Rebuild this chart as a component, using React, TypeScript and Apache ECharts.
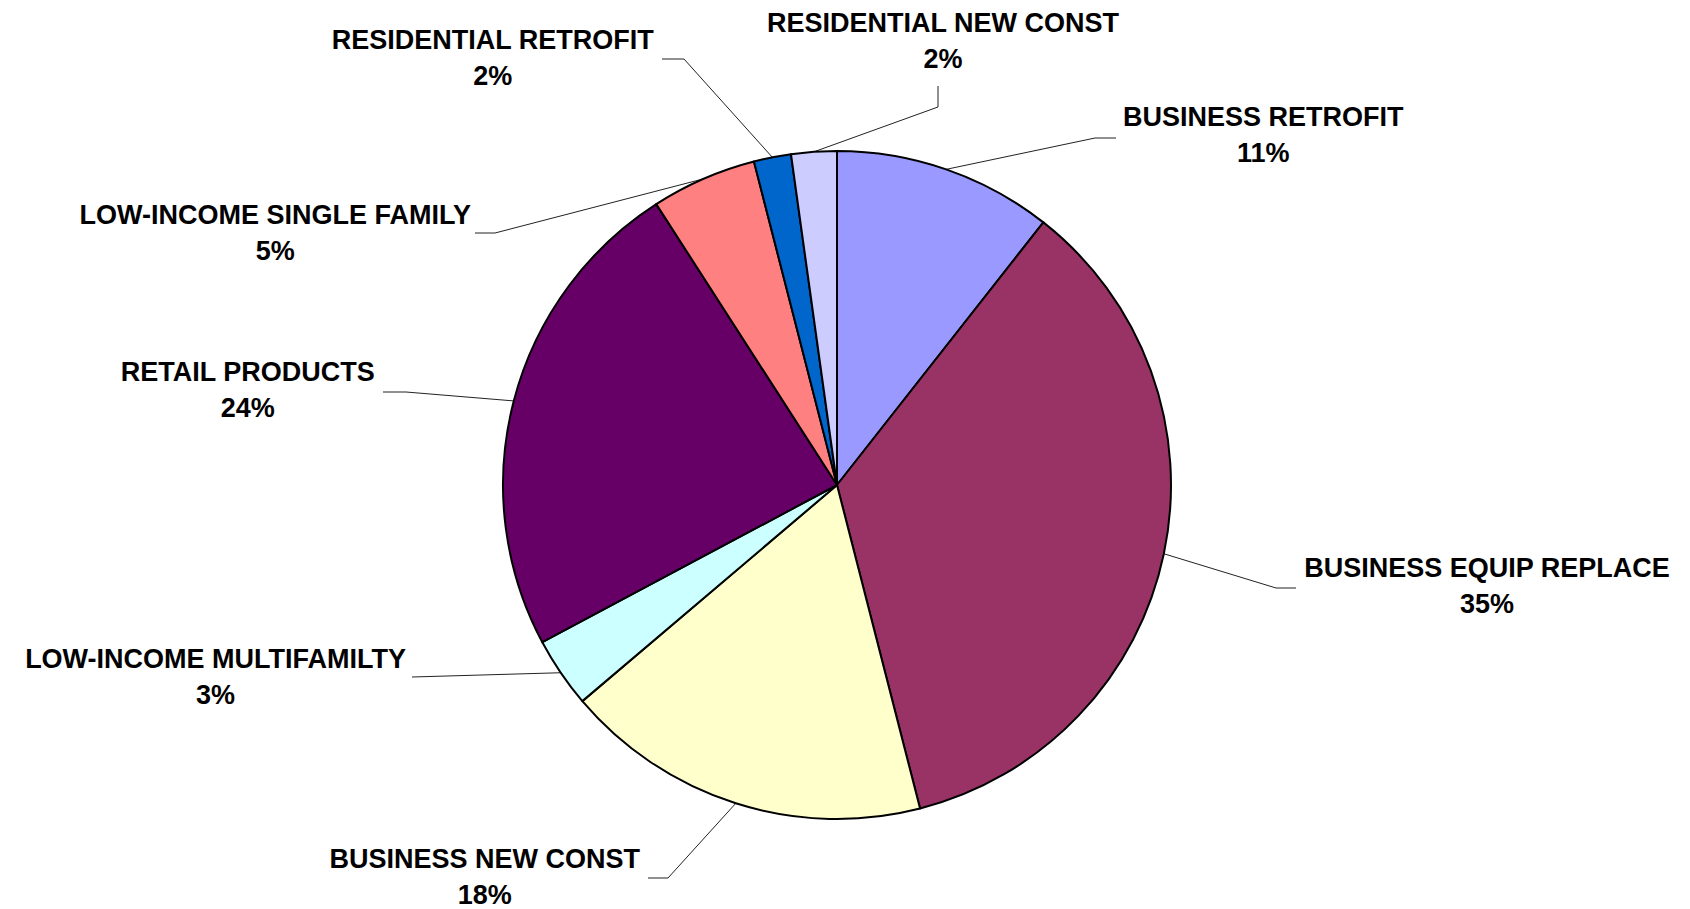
import React, { useEffect, useRef } from 'react';
import * as echarts from 'echarts';

// ---- data ----
const categories = [
  'BUSINESS RETROFIT',
  'BUSINESS EQUIP REPLACE',
  'BUSINESS NEW CONST',
  'LOW-INCOME MULTIFAMILTY',
  'RETAIL PRODUCTS',
  'LOW-INCOME SINGLE FAMILY',
  'RESIDENTIAL RETROFIT',
  'RESIDENTIAL NEW CONST',
];
const values = [10.6, 35.4, 17.8, 3.4, 23.7, 5.1, 1.8, 2.2];
const colors = ['#9999FF', '#993366', '#FFFFCC', '#CCFFFF', '#660066', '#FF8080', '#0066CC', '#CCCCFF'];

// ---- label placement (leader line points after the slice edge point, and label anchor) ----
type Guide = { pts: number[][]; x: number; y: number; align: string; va: string };
const guides: Guide[] = [
  { pts: [[1095, 138], [1116, 138]], x: 1123, y: 135, align: 'left', va: 'middle' },
  { pts: [[1276, 588], [1296, 588]], x: 1304, y: 586, align: 'left', va: 'middle' },
  { pts: [[668, 878], [648, 878]], x: 640, y: 877, align: 'right', va: 'middle' },
  { pts: [[412, 677]], x: 406, y: 677, align: 'right', va: 'middle' },
  { pts: [[406, 392], [383, 392]], x: 375, y: 390, align: 'right', va: 'middle' },
  { pts: [[495, 233], [475, 233]], x: 471, y: 233, align: 'right', va: 'middle' },
  { pts: [[684, 59], [662, 59]], x: 654, y: 57.5, align: 'right', va: 'middle' },
  { pts: [[938, 107], [938, 86]], x: 943, y: 77, align: 'center', va: 'bottom' },
];

const CX = 837;
const CY = 485;
const R = 334;

export default function App() {
  const ref = useRef<HTMLDivElement>(null);
  useEffect(() => {
    document.body.style.margin = '0';
    if (!ref.current) return;
    const chart = echarts.init(ref.current, undefined, { renderer: 'svg' });
    const total = values.reduce((a, b) => a + b, 0);
    const edgePoint = (i: number) => {
      let before = 0;
      for (let k = 0; k < i; k++) before += values[k];
      const mid = ((before + values[i] / 2) / total) * Math.PI * 2;
      return [CX + R * Math.sin(mid), CY - R * Math.cos(mid)];
    };
    chart.setOption({
      animation: false,
      backgroundColor: '#ffffff',
      series: [
        {
          type: 'pie',
          center: [CX, CY],
          radius: R,
          startAngle: 90,
          clockwise: true,
          percentPrecision: 0,
          avoidLabelOverlap: false,
          emphasis: { disabled: true },
          itemStyle: { borderColor: '#000000', borderWidth: 2 },
          label: {
            show: true,
            position: 'outside',
            formatter: '{t|{b}}\n{t|{d}%}',
            rich: {
              t: {
                align: 'center',
                fontSize: 27,
                fontWeight: 'bold',
                fontFamily: '"Liberation Sans", Arial, sans-serif',
                color: '#000000',
                lineHeight: 36,
              },
            },
          },
          labelLine: {
            show: true,
            smooth: false,
            lineStyle: { color: '#222222', width: 1 },
          },
          labelLayout: (params: any) => {
            const g = guides[params.dataIndex];
            const start =
              params.labelLinePoints && params.labelLinePoints[0]
                ? params.labelLinePoints[0]
                : edgePoint(params.dataIndex);
            return {
              x: g.x,
              y: g.y,
              align: g.align,
              verticalAlign: g.va,
              labelLinePoints: [start, ...g.pts],
            };
          },
          data: categories.map((name, i) => ({
            name,
            value: values[i],
            itemStyle: { color: colors[i] },
          })),
        },
      ],
    });
    return () => chart.dispose();
  }, []);
  return <div ref={ref} style={{ width: 1690, height: 909 }} />;
}
